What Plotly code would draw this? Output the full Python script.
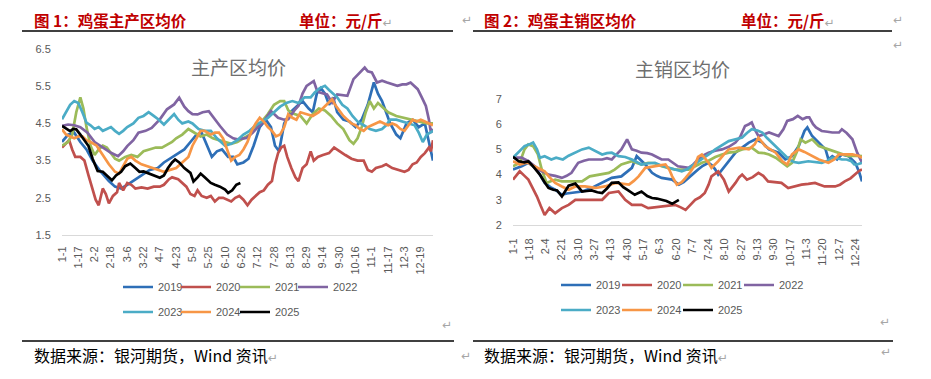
import pandas as pd
import plotly.graph_objects as go

# ---------------- data (day-of-year offsets from Jan 1, values in 元/斤) ----------------
years = ["2019", "2020", "2021", "2022", "2023", "2024", "2025"]
colors = ["#2E6FB7", "#C0504D", "#9BBB59", "#8064A2", "#4BACC6", "#F79646", "#000000"]

# Chart 1: 主产区均价
main_2019_day = [0,6,12,18,24,30,38,46,52,58,64,70,78,86,94,100,106,112,120,126,132,137,142,147,152,157,163,168,172,178,183,188,194,200,205,209,213,218,224,230,236,242,246,250,254,258,262,266,270,276,282,288,294,300,304,306,310,314,318,322,328,332,338,344,350,356,360,364]
main_2019_val = [4.0,4.2,4.25,4.0,3.8,3.5,3.2,2.95,2.8,2.75,2.85,2.95,3.1,3.25,3.3,3.45,3.55,3.65,3.8,4.0,4.2,4.25,3.9,3.6,3.75,3.8,3.6,3.6,3.4,3.45,3.55,3.9,4.4,4.6,4.4,3.9,3.75,4.5,4.8,4.95,5.1,4.9,4.8,5.3,5.45,5.3,5.0,5.2,4.8,4.6,4.55,4.4,4.6,5.0,5.45,5.6,5.3,5.1,4.8,4.5,4.2,4.1,4.5,4.6,4.4,4.5,4.0,3.5]
main_2020_day = [0,4,7,10,13,18,22,26,30,33,36,40,43,46,50,54,56,60,64,68,72,78,84,90,96,100,105,108,114,118,122,126,130,133,137,142,146,150,154,158,162,166,170,174,178,182,186,190,194,198,202,206,209,212,215,218,221,225,229,232,236,240,244,247,251,256,262,267,272,278,284,290,296,300,304,308,314,318,324,330,336,340,344,348,352,356,360,362,364]
main_2020_val = [3.85,3.95,4.05,3.8,3.6,3.6,3.5,3.1,2.7,2.45,2.3,2.75,2.6,2.35,2.55,2.65,2.9,2.7,2.9,2.85,2.75,2.78,2.75,2.8,2.8,2.85,3.0,3.05,3.0,2.9,2.8,2.6,2.55,2.7,2.55,2.5,2.55,2.4,2.5,2.5,2.45,2.4,2.5,2.55,2.45,2.3,2.45,2.55,2.65,2.7,2.85,2.95,3.4,3.7,3.85,3.9,3.6,3.3,3.05,2.95,3.3,3.4,3.75,3.5,3.6,3.65,3.7,3.85,3.75,3.65,3.55,3.5,3.5,3.25,3.2,3.3,3.35,3.4,3.3,3.25,3.2,3.25,3.4,3.45,3.6,3.7,3.85,3.75,4.05]
main_2021_day = [0,6,10,14,18,21,24,28,32,36,40,44,48,52,56,62,68,74,80,86,92,98,104,108,112,118,124,130,136,142,148,154,160,166,172,178,184,190,196,202,208,214,218,222,228,234,240,246,252,258,264,270,276,282,286,290,294,298,302,306,310,314,320,328,336,344,352,358,364]
main_2021_val = [3.9,4.0,4.2,4.8,5.2,4.9,4.4,3.9,3.65,3.8,3.9,3.85,3.7,3.55,3.5,3.6,3.65,3.6,3.75,3.8,3.85,3.85,3.95,4.0,4.1,4.2,4.35,4.25,4.15,4.2,4.1,4.05,4.0,3.95,4.0,4.1,4.2,4.35,4.55,4.75,5.0,5.1,5.1,4.85,4.75,4.7,4.5,4.75,4.9,4.85,4.7,4.5,4.35,4.05,3.95,4.1,4.4,4.8,5.1,4.9,5.05,4.95,4.8,4.7,4.65,4.6,4.55,4.5,4.5]
main_2022_day = [0,6,12,18,25,32,38,44,48,55,60,64,70,75,82,88,96,103,110,115,120,124,128,133,138,144,150,155,162,168,172,178,181,187,192,197,205,212,218,222,228,232,236,240,247,250,253,260,265,270,276,280,286,292,297,300,304,309,314,319,324,329,334,338,342,346,349,353,357,360,362,364]
main_2022_val = [4.43,4.47,4.45,4.4,4.25,4.0,3.89,3.78,3.71,3.62,3.75,3.89,4.05,4.25,4.3,4.38,4.61,4.88,5.01,5.19,4.95,4.83,4.75,4.74,4.8,4.83,4.6,4.43,4.2,4.1,4.07,4.1,4.11,4.25,4.4,4.52,4.83,4.65,4.6,4.61,4.85,4.97,5.3,5.51,5.64,5.4,5.33,5.28,5.06,5.28,5.25,5.24,5.69,5.85,6.0,5.9,5.87,5.6,5.65,5.6,5.55,5.51,5.55,5.55,5.6,5.5,5.42,5.2,4.97,4.6,4.25,4.35]
main_2023_day = [0,4,8,12,16,20,24,28,32,36,40,44,48,52,56,60,64,70,75,80,85,90,95,100,105,110,114,118,124,128,134,140,146,152,156,160,166,172,178,184,190,196,202,208,214,220,226,232,238,244,248,253,258,262,266,270,275,280,285,290,296,302,308,314,318,322,328,334,340,346,350,354,358,364]
main_2023_val = [4.61,4.8,5.0,5.1,5.05,4.8,4.52,4.45,4.35,4.4,4.3,4.35,4.4,4.3,4.22,4.3,4.4,4.5,4.65,4.7,4.8,4.7,4.6,4.47,4.6,4.75,4.6,4.5,4.55,4.5,4.35,4.3,4.3,4.1,4.0,3.9,3.95,4.05,4.2,4.3,4.45,4.55,4.65,4.8,4.95,5.05,5.1,5.05,5.2,5.2,5.33,5.45,5.51,5.4,5.3,5.2,5.0,4.9,4.7,4.55,4.45,4.35,4.3,4.35,4.45,4.6,4.6,4.55,4.5,4.45,4.25,4.0,4.2,4.3]
main_2024_day = [0,4,8,12,16,20,24,28,34,40,46,52,56,60,64,68,72,78,84,90,96,100,106,112,118,124,128,132,136,140,146,150,154,158,162,166,170,174,178,182,186,190,194,198,202,206,210,214,218,222,226,230,234,240,246,252,258,262,265,268,272,276,280,284,288,292,296,300,304,308,312,316,320,324,328,332,336,340,344,348,352,356,360,364]
main_2024_val = [4.34,4.2,4.15,4.1,4.15,4.15,4.05,4.0,3.9,3.65,3.4,3.2,3.15,3.35,3.55,3.6,3.5,3.4,3.35,3.3,3.25,3.2,3.25,3.3,3.45,3.6,3.9,4.1,4.3,4.3,4.2,4.25,4.25,4.1,3.8,3.5,3.6,3.65,3.8,4.0,4.3,4.5,4.65,4.55,4.4,4.3,4.15,4.2,4.4,4.75,4.65,4.6,4.8,4.75,4.7,4.8,4.95,5.05,5.15,5.0,4.85,4.7,4.6,4.5,4.45,4.35,4.3,4.4,4.45,4.5,4.55,4.5,4.45,4.5,4.45,4.35,4.3,4.45,4.6,4.55,4.6,4.55,4.5,4.45]
main_2025_day = [0,4,8,11,14,18,22,26,30,35,40,44,49,53,58,62,67,72,76,80,86,91,96,100,104,108,111,115,120,126,129,133,136,140,146,150,155,160,163,167,171,175]
main_2025_val = [4.43,4.35,4.29,4.35,4.34,4.2,4.05,3.89,3.55,3.22,3.2,3.1,2.97,3.1,3.2,3.35,3.42,3.3,3.2,3.21,3.15,3.1,3.04,3.1,3.3,3.45,3.53,3.45,3.3,3.17,2.94,3.05,3.15,3.05,2.9,2.85,2.8,2.72,2.63,2.7,2.85,2.9]

# Chart 2: 主销区均价
sale_2019_day = [0,9,16,25,33,39,44,51,56,61,72,82,93,103,113,119,124,129,134,138,145,150,155,160,166,173,178,183,188,193,198,204,208,211,214,221,226,232,240,246,253,256,260,267,272,277,284,291,298,304,307,312,319,326,329,333,338,343,350,357,361,364]
sale_2019_val = [4.2,4.33,4.47,4.2,3.67,3.5,3.4,3.2,3.25,3.27,3.33,3.47,3.67,3.87,3.93,4.1,4.27,4.73,4.55,4.4,4.07,3.95,3.87,3.85,3.8,3.6,3.7,3.87,4.05,4.2,4.35,4.47,4.35,4.2,4.0,4.33,4.6,4.87,5.1,5.27,5.4,5.35,5.27,5.0,4.95,4.87,4.6,4.73,5.13,5.73,5.87,5.53,5.27,5.0,4.6,4.73,4.6,4.8,4.73,4.47,4.1,3.73]
sale_2020_day = [0,7,12,16,20,25,29,33,38,44,51,58,65,72,79,86,93,100,105,110,117,124,129,134,141,148,155,162,169,175,180,185,190,195,200,204,207,214,220,225,229,232,236,239,244,250,256,261,266,273,280,287,294,301,308,315,320,325,330,336,341,346,352,357,361,364]
sale_2020_val = [3.8,4.13,3.95,3.8,3.5,3.13,2.75,2.4,2.67,2.47,2.67,2.8,3.0,3.0,3.0,3.0,3.0,3.27,3.3,3.33,3.0,2.8,2.8,2.8,2.67,2.7,2.73,2.75,2.8,2.7,2.6,2.8,3.0,3.1,3.27,3.6,3.93,4.13,3.8,3.33,3.5,3.67,3.9,4.0,3.8,3.9,4.07,3.95,3.73,3.7,3.67,3.47,3.55,3.6,3.63,3.67,3.6,3.53,3.53,3.53,3.6,3.73,3.85,4.0,4.15,4.2]
sale_2021_day = [0,7,12,16,21,26,30,35,40,44,51,61,72,80,89,100,106,113,124,134,141,148,155,162,169,176,183,190,197,204,211,218,225,232,239,249,256,262,267,274,281,286,291,296,300,305,312,319,329,340,350,357,364]
sale_2021_val = [4.33,4.47,5.0,5.2,5.13,4.8,4.2,3.67,3.75,3.8,3.73,3.73,3.73,3.93,4.0,4.07,4.2,4.4,4.53,4.4,4.47,4.45,4.33,4.25,4.2,4.2,4.2,4.33,4.47,4.55,4.7,4.8,4.87,4.9,5.0,5.07,4.87,4.85,4.8,4.67,4.47,4.33,4.47,4.9,5.4,5.27,5.4,5.13,5.0,4.87,4.73,4.75,4.73]
sale_2022_day = [0,9,16,22,27,32,37,44,51,56,61,65,68,74,79,86,93,98,103,108,113,119,124,129,134,140,145,150,155,162,167,172,178,183,188,193,198,204,211,218,225,232,237,242,246,249,252,256,262,267,272,277,282,286,292,297,302,306,309,313,316,322,328,333,340,343,348,354,359,362,364]
sale_2022_val = [4.67,4.67,4.53,4.35,4.2,4.1,4.0,3.95,3.87,3.95,4.07,4.3,4.47,4.55,4.6,4.6,4.6,4.65,4.6,4.8,5.0,5.4,5.0,4.95,4.87,4.85,4.8,4.7,4.6,4.6,4.45,4.33,4.3,4.27,4.4,4.6,4.75,4.87,4.95,5.0,5.1,5.27,5.5,5.93,6.0,6.07,5.8,5.53,5.6,5.67,5.6,5.53,5.8,6.13,6.2,6.33,6.2,6.27,6.27,6.0,5.87,5.73,5.7,5.67,5.67,5.8,5.65,5.4,4.87,4.6,4.47]
sale_2023_day = [0,6,12,17,21,25,28,33,40,45,52,58,65,72,79,86,93,98,103,110,117,124,129,134,141,148,155,162,169,176,181,186,193,200,206,211,218,225,232,239,244,249,255,260,265,270,275,281,288,293,298,308,315,322,328,333,338,343,348,353,356,359,364]
sale_2023_val = [4.67,4.9,5.13,5.2,5.27,5.0,4.67,4.73,4.6,4.67,4.6,4.75,4.87,5.0,5.07,4.93,4.8,4.85,4.87,4.73,4.7,4.6,4.5,4.4,4.45,4.47,4.35,4.27,4.2,4.13,4.2,4.33,4.5,4.67,4.85,5.0,5.15,5.33,5.4,5.47,5.65,5.8,5.75,5.67,5.45,5.27,5.05,4.87,4.6,4.5,4.47,4.53,4.5,4.47,4.55,4.67,4.65,4.6,4.6,4.53,4.4,4.4,4.47]
sale_2024_day = [0,7,12,16,21,25,33,38,44,51,58,65,75,86,96,107,114,121,126,131,138,148,159,163,166,171,176,180,185,190,193,197,201,204,207,211,214,220,225,236,246,252,256,263,268,274,281,286,291,298,304,309,319,329,335,340,347,354,360,364]
sale_2024_val = [4.53,4.4,4.45,4.47,4.35,4.27,4.13,3.9,3.67,3.53,3.4,3.53,3.53,3.47,3.53,3.67,3.62,3.6,3.75,3.93,4.27,4.33,4.4,4.2,3.93,3.6,3.7,3.87,4.1,4.4,4.7,4.8,4.6,4.47,4.27,4.4,4.53,4.8,5.0,5.07,5.0,5.2,5.47,5.13,5.0,4.87,4.53,4.4,4.8,5.0,4.9,4.8,4.6,4.47,4.6,4.8,4.8,4.8,4.75,4.67]
sale_2025_day = [0,6,12,16,21,28,33,37,42,46,51,55,58,65,72,77,82,88,93,98,103,110,115,119,123,127,134,140,145,150,155,160,166,170,173]
sale_2025_val = [4.71,4.53,4.49,4.53,4.33,4.0,3.7,3.47,3.4,3.37,3.13,3.4,3.56,3.64,3.33,3.35,3.37,3.3,3.27,3.45,3.67,3.69,3.5,3.4,3.3,3.2,3.33,3.15,3.07,3.05,3.0,2.95,2.84,2.92,3.0]

main_series = [(main_2019_day, main_2019_val), (main_2020_day, main_2020_val), (main_2021_day, main_2021_val),
               (main_2022_day, main_2022_val), (main_2023_day, main_2023_val), (main_2024_day, main_2024_val),
               (main_2025_day, main_2025_val)]
sale_series = [(sale_2019_day, sale_2019_val), (sale_2020_day, sale_2020_val), (sale_2021_day, sale_2021_val),
               (sale_2022_day, sale_2022_val), (sale_2023_day, sale_2023_val), (sale_2024_day, sale_2024_val),
               (sale_2025_day, sale_2025_val)]

BASE = pd.Timestamp("2023-01-01")


def to_dates(days):
    return [BASE + pd.Timedelta(days=int(d)) for d in days]


def ticks(step):
    ds = [BASE + pd.Timedelta(days=d) for d in range(0, 365, step)]
    return ds, [f"{d.month}-{d.day}" for d in ds]


# the page body has an 8px margin: the figure is sized so the page fits the 931x379 window
OFF = 8
W, H = 931 - 2 * OFF, 379 - 2 * OFF


def px(x):
    return (x - OFF) / W


def py(y):
    return 1 - (y - OFF) / H


fig = go.Figure()

# legend item line-start positions (page pixels) for each chart
leg_main_pos = [(125, 287), (183, 287), (242, 287), (300, 287), (125, 312), (183, 312), (242, 312)]
leg_sale_pos = [(563, 285), (624, 285), (685, 285), (746, 285), (563, 310), (624, 310), (685, 310)]
legend_font = dict(family="Liberation Sans, Arial", size=11, color="#595959")
legend_layouts = {}

for i, (d, v) in enumerate(main_series):
    lid = "legend" if i == 0 else f"legend{i + 1}"
    fig.add_trace(go.Scatter(x=to_dates(d), y=v, mode="lines", name=years[i],
                             line=dict(color=colors[i], width=2.7), xaxis="x", yaxis="y", legend=lid))
    lx, ly = leg_main_pos[i]
    legend_layouts[lid] = dict(x=px(lx - 7), y=py(ly), xanchor="left", yanchor="middle", orientation="h",
                               bgcolor="rgba(0,0,0,0)", font=legend_font, itemwidth=30)
for i, (d, v) in enumerate(sale_series):
    lid = f"legend{i + 8}"
    fig.add_trace(go.Scatter(x=to_dates(d), y=v, mode="lines", name=years[i],
                             line=dict(color=colors[i], width=2.7), xaxis="x2", yaxis="y2", legend=lid))
    lx, ly = leg_sale_pos[i]
    legend_layouts[lid] = dict(x=px(lx - 7), y=py(ly), xanchor="left", yanchor="middle", orientation="h",
                               bgcolor="rgba(0,0,0,0)", font=legend_font, itemwidth=30)

tv1, tt1 = ticks(16)
tv2, tt2 = ticks(17)
tickfont = dict(family="Liberation Sans, Arial", size=11, color="#595959")
xr = [BASE, BASE + pd.Timedelta(days=364)]

common_x = dict(type="date", range=xr, showgrid=False, zeroline=False, showline=True,
                linecolor="#D9D9D9", linewidth=1, tickangle=-90, tickfont=tickfont,
                ticks="outside", tickcolor="rgba(0,0,0,0)", automargin=False)
common_y = dict(showgrid=False, zeroline=False, showline=False, tickfont=tickfont,
                ticks="outside", tickcolor="rgba(0,0,0,0)", ticklen=8, automargin=False)

fig.update_layout(
    width=W, height=H, margin=dict(l=0, r=0, t=0, b=0, autoexpand=False),
    paper_bgcolor="white", plot_bgcolor="white", showlegend=True,
    xaxis=dict(domain=[px(62), px(433)], anchor="y", tickvals=tv1, ticktext=tt1, ticklen=6, **common_x),
    yaxis=dict(domain=[py(235), py(49)], anchor="x", range=[1.5, 6.5], tickvals=[1.5, 2.5, 3.5, 4.5, 5.5, 6.5],
               ticktext=["1.5", "2.5", "3.5", "4.5", "5.5", "6.5"], **common_y),
    xaxis2=dict(domain=[px(513), px(862)], anchor="y2", tickvals=tv2, ticktext=tt2, ticklen=8, **common_x),
    yaxis2=dict(domain=[py(225), py(99)], anchor="x2", range=[2, 7], tickvals=[2, 3, 4, 5, 6, 7], **common_y),
    **legend_layouts,
)

cjk = "Noto Sans CJK SC"
red = "#C00000"
mark_span = "<span style='color:#A6A6A6;font-family:DejaVu Sans;font-size:12px'>↵</span>"
ann = []


def text(x, y, s, size, color, anchor="left", family=cjk):
    ann.append(dict(x=px(x), y=py(y), xref="paper", yref="paper", text=s, showarrow=False,
                    xanchor=anchor, yanchor="middle", font=dict(family=family, size=size, color=color)))


text(32, 20, "<b>图 1：鸡蛋主产区均价</b>", 15.5, red)
text(297, 20, "<b>单位：元/斤</b>" + mark_span, 15.5, red)
text(482, 20, "<b>图 2：鸡蛋主销区均价</b>", 15.5, red)
text(739, 20, "<b>单位：元/斤</b>" + mark_span, 15.5, red)
text(238, 67, "主产区均价", 19, "#6F6F6F", anchor="center")
text(682, 68, "主销区均价", 19, "#6F6F6F", anchor="center")
text(32, 355, "数据来源：银河期货，Wind 资讯" + mark_span, 16, "#000000")
text(482, 355, "数据来源：银河期货，Wind 资讯" + mark_span, 16, "#000000")
mark = "↵"
for (x, y) in [(467, 20), (898, 20), (898, 45), (447, 325), (885, 322), (466, 356), (886, 352)]:
    text(x, y, mark, 12, "#A6A6A6", anchor="center", family="DejaVu Sans")
fig.update_layout(annotations=ann)

shapes = []
for (x0, x1, y) in [(22, 453, 31), (473, 892, 31), (22, 454, 341), (473, 893, 341)]:
    shapes.append(dict(type="line", xref="paper", yref="paper", x0=px(x0), x1=px(x1), y0=py(y), y1=py(y),
                       line=dict(color="#000000", width=1.3)))
fig.update_layout(shapes=shapes)

fig.write_html("out.html")
